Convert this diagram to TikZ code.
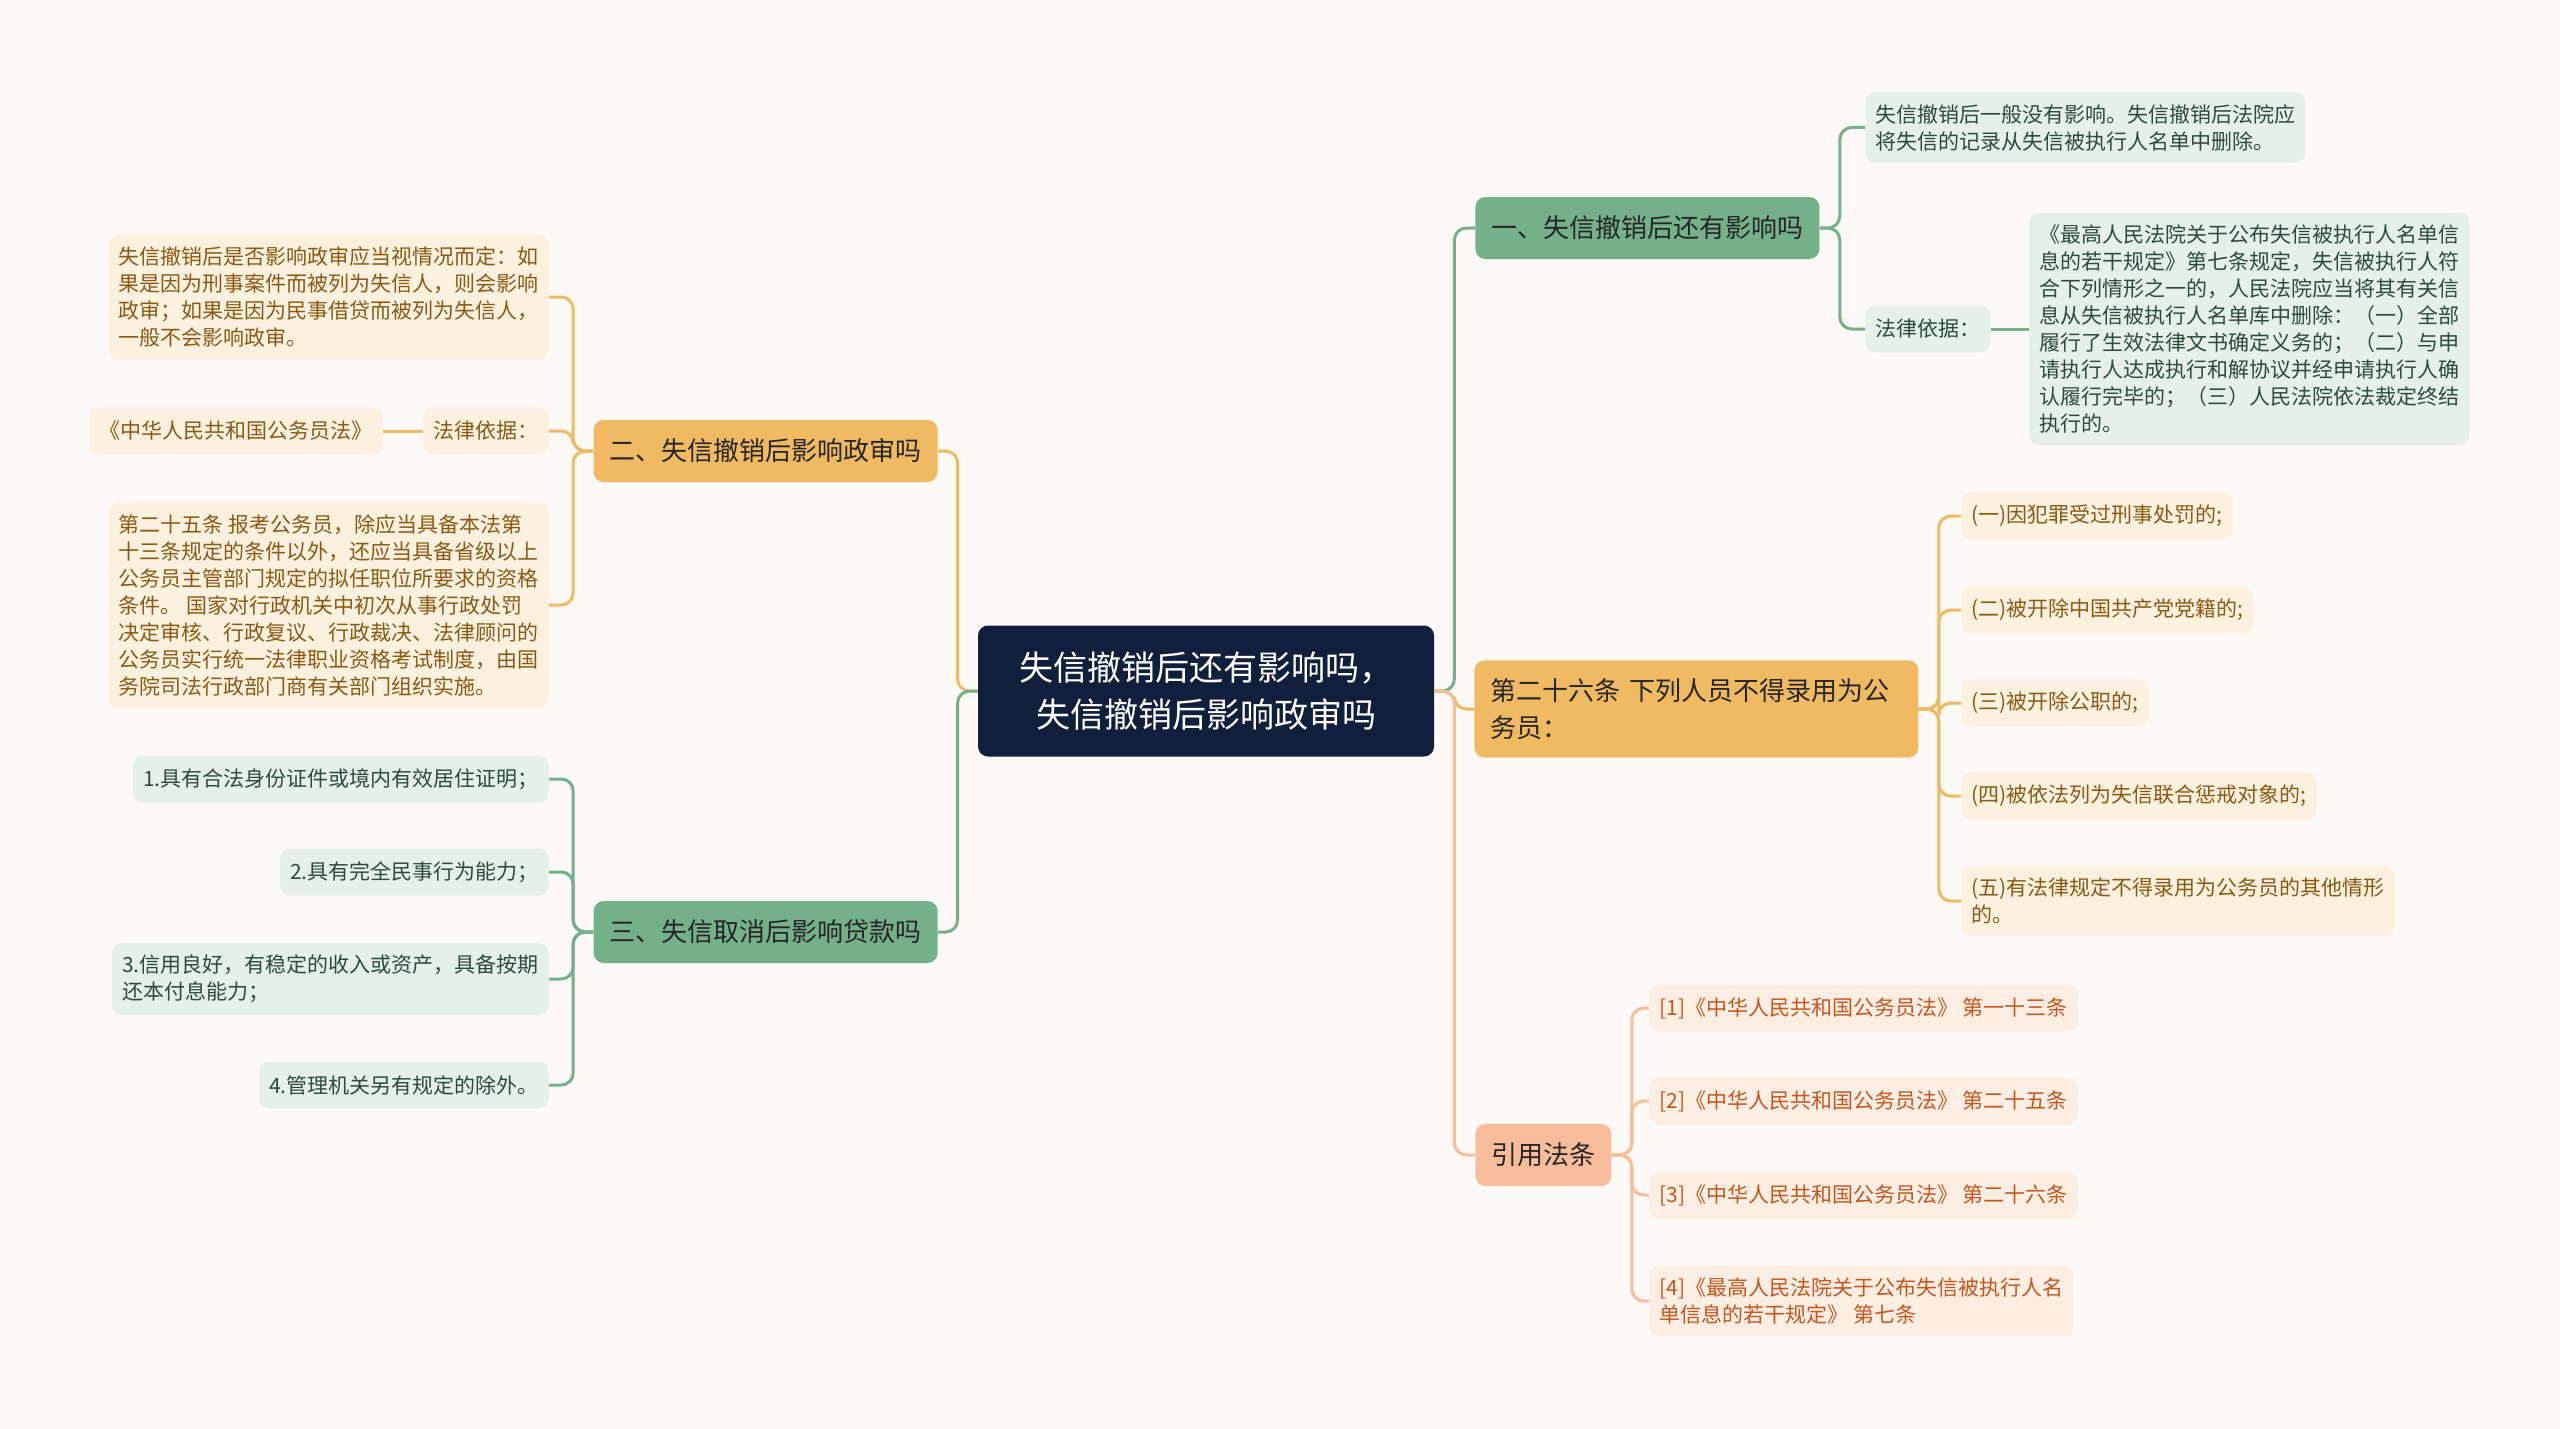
\documentclass[tikz,border=0pt]{standalone}
\usepackage{fontspec}
\setmainfont{Noto Sans CJK SC}
\definecolor{bg}{HTML}{FCF9F7}
\definecolor{rootc}{HTML}{101F3B}
\definecolor{grn}{HTML}{74B08A}
\definecolor{grnlt}{HTML}{E5F1E8}
\definecolor{grntx}{HTML}{2E4A3A}
\definecolor{org}{HTML}{F0BA62}
\definecolor{orglt}{HTML}{FCF0DE}
\definecolor{orgtx}{HTML}{8A5A14}
\definecolor{pch}{HTML}{F9BC9A}
\definecolor{pchlt}{HTML}{FDEEE4}
\definecolor{pchtx}{HTML}{C4561E}
\begin{document}
\begin{tikzpicture}[x=0.5pt, y=-0.5pt,
	leaf/.style={rounded corners=5pt, align=left, inner xsep=5pt, inner ysep=6pt, minimum height=23.5pt, font=\fontsize{10.5}{13.5}\selectfont},
	branch/.style={rounded corners=5pt, align=left, inner xsep=8pt, inner ysep=9pt, minimum height=31pt, text=black!85, font=\fontsize{13}{18.5}\selectfont},
	gleaf/.style={leaf, fill=grnlt, text=grntx},
	oleaf/.style={leaf, fill=orglt, text=orgtx},
	pleaf/.style={leaf, fill=pchlt, text=pchtx},
	glink/.style={draw=grn, line width=1.5pt, rounded corners=6pt},
	olink/.style={draw=org, line width=1.5pt, rounded corners=6pt},
	plink/.style={draw=pch, line width=1.5pt, rounded corners=6pt}]
	\fill[bg] (0,0) rectangle (2560,1429);
	\useasboundingbox (0,0) rectangle (2560,1429);
	% centre
	\node (root) at (1206,691) [fill=rootc, text=white, rounded corners=5pt, align=center, minimum width=228pt, minimum height=65.5pt, font=\fontsize{17}{23.5}\selectfont] {失信撤销后还有影响吗，\\失信撤销后影响政审吗};
	% right side
	\node (b1) at (1475,228) [branch, fill=grn, anchor=west] {一、失信撤销后还有影响吗};
	\node (b1a) at (1865,127.5) [gleaf, anchor=west] {失信撤销后一般没有影响。失信撤销后法院应\\将失信的记录从失信被执行人名单中删除。};
	\node (b1b) at (1865,329) [gleaf, anchor=west] {法律依据：};
	\node (b1c) at (2029,329) [gleaf, anchor=west] {《最高人民法院关于公布失信被执行人名单信\\息的若干规定》第七条规定，失信被执行人符\\合下列情形之一的，人民法院应当将其有关信\\息从失信被执行人名单库中删除：（一）全部\\履行了生效法律文书确定义务的；（二）与申\\请执行人达成执行和解协议并经申请执行人确\\认履行完毕的；（三）人民法院依法裁定终结\\执行的。};
	\node (b2) at (1474,709) [branch, fill=org, anchor=west, text width=206pt] {第二十六条 下列人员不得录用为公\\务员：};
	\node (b2a) at (1961,516) [oleaf, anchor=west] {(一)因犯罪受过刑事处罚的;};
	\node (b2b) at (1961,610) [oleaf, anchor=west] {(二)被开除中国共产党党籍的;};
	\node (b2c) at (1961,703) [oleaf, anchor=west] {(三)被开除公职的;};
	\node (b2d) at (1961,796) [oleaf, anchor=west] {(四)被依法列为失信联合惩戒对象的;};
	\node (b2e) at (1961,901) [oleaf, anchor=west] {(五)有法律规定不得录用为公务员的其他情形\\的。};
	\node (b3) at (1475,1155) [branch, fill=pch, anchor=west] {引用法条};
	\node (b3a) at (1649,1008) [pleaf, anchor=west] {[1]《中华人民共和国公务员法》 第一十三条};
	\node (b3b) at (1649,1101) [pleaf, anchor=west] {[2]《中华人民共和国公务员法》 第二十五条};
	\node (b3c) at (1649,1195) [pleaf, anchor=west] {[3]《中华人民共和国公务员法》 第二十六条};
	\node (b3d) at (1649,1301) [pleaf, anchor=west] {[4]《最高人民法院关于公布失信被执行人名\\单信息的若干规定》 第七条};
	% left side
	\node (b4) at (938,451) [branch, fill=org, anchor=east] {二、失信撤销后影响政审吗};
	\node (b4a) at (549,297) [oleaf, anchor=east] {失信撤销后是否影响政审应当视情况而定：如\\果是因为刑事案件而被列为失信人，则会影响\\政审；如果是因为民事借贷而被列为失信人，\\一般不会影响政审。};
	\node (b4b) at (549,431) [oleaf, anchor=east] {法律依据：};
	\node (b4c) at (383,431) [oleaf, anchor=east] {《中华人民共和国公务员法》};
	\node (b4d) at (549,605) [oleaf, anchor=east] {第二十五条 报考公务员，除应当具备本法第\\十三条规定的条件以外，还应当具备省级以上\\公务员主管部门规定的拟任职位所要求的资格\\条件。 国家对行政机关中初次从事行政处罚\\决定审核、行政复议、行政裁决、法律顾问的\\公务员实行统一法律职业资格考试制度，由国\\务院司法行政部门商有关部门组织实施。};
	\node (b5) at (938,932) [branch, fill=grn, anchor=east] {三、失信取消后影响贷款吗};
	\node (b5a) at (549,779) [gleaf, anchor=east] {1.具有合法身份证件或境内有效居住证明；};
	\node (b5b) at (549,872) [gleaf, anchor=east] {2.具有完全民事行为能力；};
	\node (b5c) at (549,979) [gleaf, anchor=east] {3.信用良好，有稳定的收入或资产，具备按期\\还本付息能力；};
	\node (b5d) at (549,1085) [gleaf, anchor=east] {4.管理机关另有规定的除外。};
	% links
	\draw[glink] (root.east) -- ++(10pt,0) |- (b1.west);
	\draw[olink] (root.east) -- ++(10pt,0) |- (b2.west);
	\draw[plink] (root.east) -- ++(10pt,0) |- (b3.west);
	\draw[olink] (root.west) -- ++(-10pt,0) |- (b4.east);
	\draw[glink] (root.west) -- ++(-10pt,0) |- (b5.east);
	\foreach \c in {b1a,b1b} \draw[glink] (b1.east) -- ++(10pt,0) |- (\c.west);
	\draw[glink] (b1b.east) -- (b1c.west);
	\foreach \c in {b2a,b2b,b2c,b2d,b2e} \draw[olink] (b2.east) -- ++(10pt,0) |- (\c.west);
	\foreach \c in {b3a,b3b,b3c,b3d} \draw[plink] (b3.east) -- ++(10pt,0) |- (\c.west);
	\foreach \c in {b4a,b4b,b4d} \draw[olink] (b4.west) -- ++(-10pt,0) |- (\c.east);
	\draw[olink] (b4b.west) -- (b4c.east);
	\foreach \c in {b5a,b5b,b5c,b5d} \draw[glink] (b5.west) -- ++(-10pt,0) |- (\c.east);
\end{tikzpicture}
\end{document}
